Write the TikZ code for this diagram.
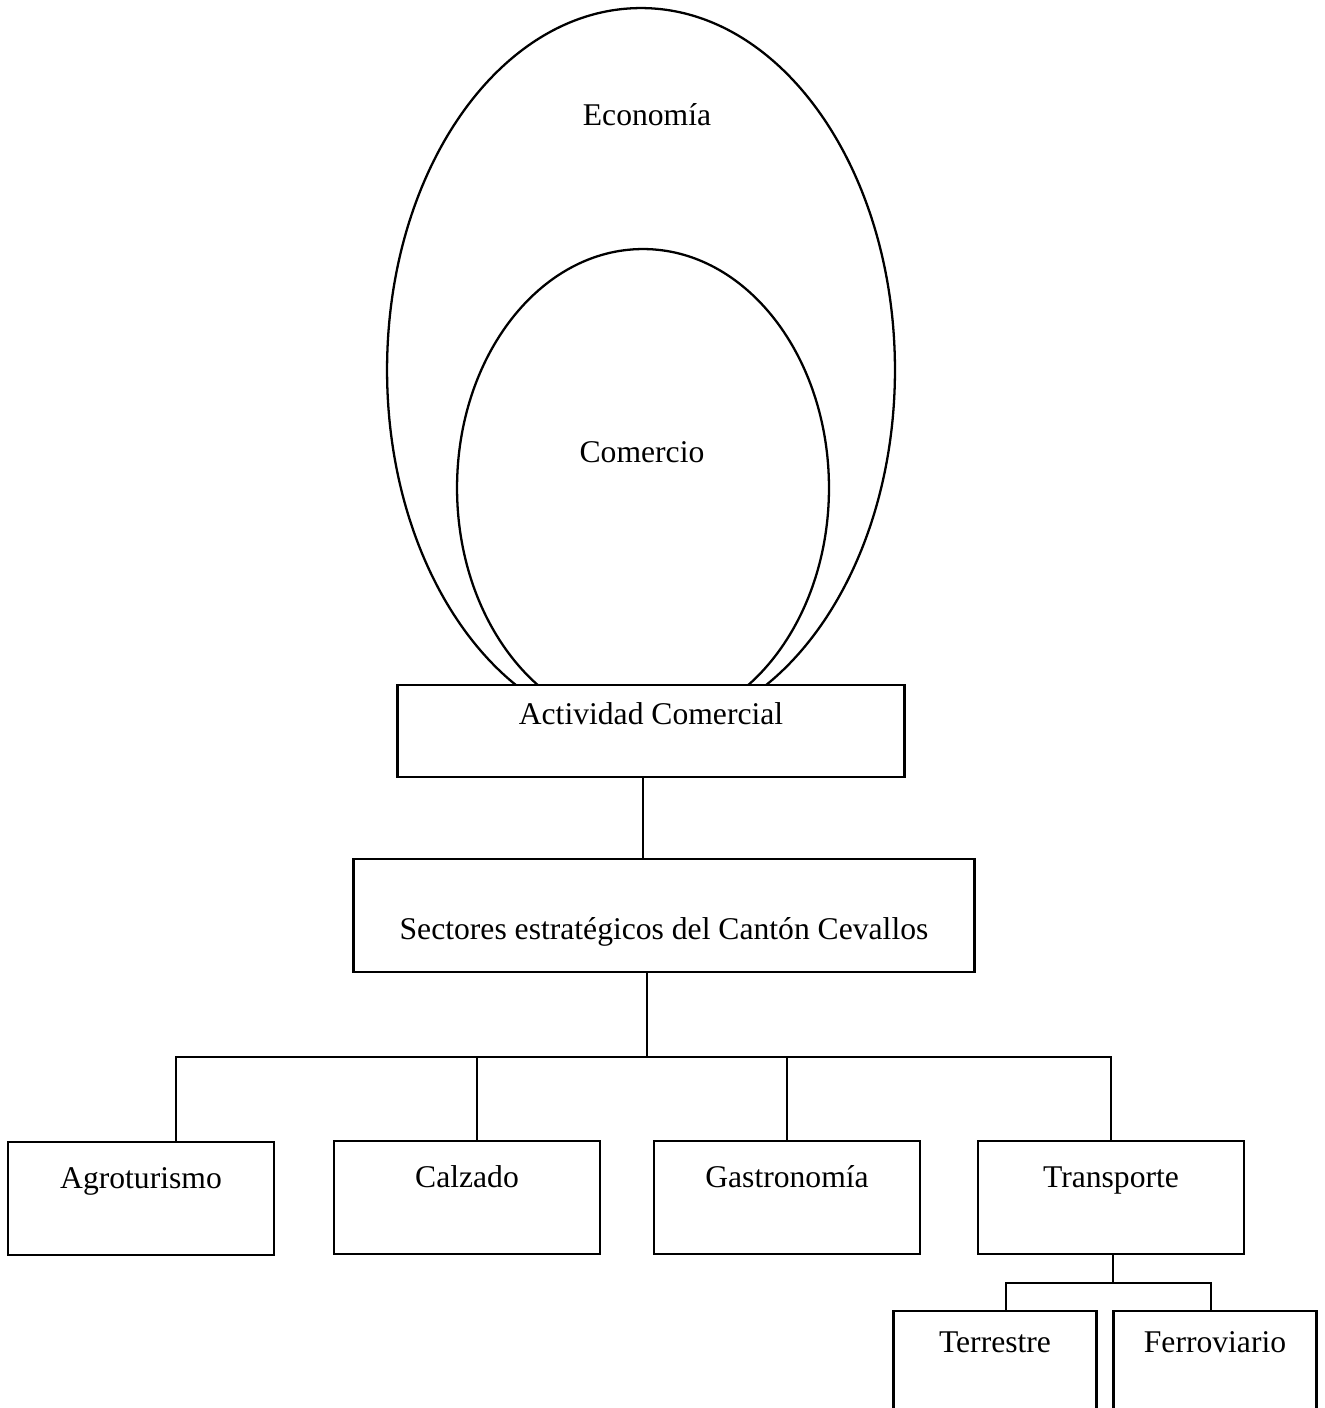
\documentclass[tikz,border=0pt]{standalone}
\usepackage{fontspec}
\setmainfont{Liberation Serif}
\usetikzlibrary{shapes.geometric}
\tikzset{
  caja/.style={draw, line width=1.4pt, fill=white, inner sep=0pt, anchor=north},
  sector/.style={caja, minimum width=5.32cm, text height=0.92cm, text depth=1.34cm},
  modo/.style={caja, minimum width=4.06cm, text height=0.82cm, text depth=1.8cm},
  orbita/.style={draw, ellipse, line width=1.3pt, inner sep=0pt},
  enlace/.style={line width=0.8pt}
}
\begin{document}
\begin{tikzpicture}[x=0.02cm, y=-0.02cm, font=\fontsize{18}{21}\selectfont]
  \useasboundingbox (0,0) rectangle (1324,1408);
  % Economia y Comercio
  \node[orbita, minimum width=10.16cm, minimum height=14.48cm] (economia) at (641,370) {};
  \node[orbita, minimum width=7.44cm, minimum height=9.56cm] (comercio) at (643,488) {};
  \node (txteco) at (647,115) {Economía};
  \node (txtcom) at (642,452) {Comercio};
  % Cajas
  \node[caja, minimum width=10.14cm, text height=0.78cm, text depth=1.06cm] (actividad)
    at (651,684) {Actividad Comercial};
  \node[caja, minimum width=12.42cm, text height=1.6cm, text depth=0.66cm] (sectores)
    at (664,858) {Sectores estratégicos del Cantón Cevallos};
  \node[sector] (agro) at (141,1141) {Agroturismo};
  \node[sector] (calzado) at (467,1140) {Calzado};
  \node[sector] (gastro) at (787,1140) {Gastronomía};
  \node[sector] (transp) at (1111,1140) {Transporte};
  \node[modo] (terrestre) at (995,1310) {Terrestre};
  \node[modo] (ferro) at (1215,1310) {Ferroviario};
  % Enlaces
  \coordinate (bus) at (647,1057);
  \coordinate (subbus) at (1113,1283);
  \draw[enlace] ([xshift=-0.16cm]actividad.south) -- ([xshift=-0.16cm]actividad.south |- sectores.north);
  \draw[enlace] (sectores.south -| bus) -- (bus);
  \draw[enlace] ([xshift=0.7cm]agro.north) |- (transp.north |- bus) -- (transp.north);
  \draw[enlace] ([xshift=0.2cm]calzado.north) -- ([xshift=0.2cm]calzado.north |- bus);
  \draw[enlace] (gastro.north) -- (gastro.north |- bus);
  \draw[enlace] (transp.south -| subbus) -- (subbus);
  \draw[enlace] ([xshift=0.22cm]terrestre.north) |- (subbus) -| ([xshift=-0.08cm]ferro.north);
\end{tikzpicture}
\end{document}
